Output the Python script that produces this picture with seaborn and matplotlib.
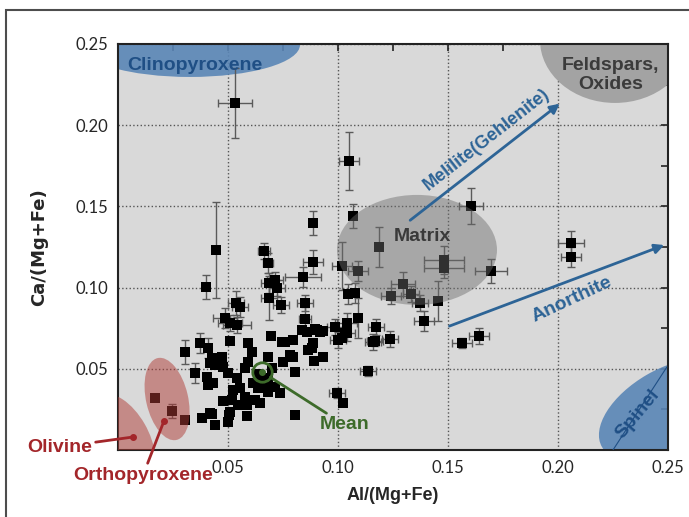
import numpy as np
import pandas as pd
import seaborn as sns
import matplotlib
matplotlib.use("Agg")
import matplotlib.pyplot as plt
from matplotlib.patches import Ellipse, Rectangle
from matplotlib.transforms import ScaledTranslation

# puntos con barras de error: Al/(Mg+Fe), Ca/(Mg+Fe), desvios
al_e = [0.0532, 0.1050, 0.0445, 0.0400, 0.0664, 0.0682, 0.0886, 0.0841, 0.1018, 0.1091,
        0.1186, 0.1068, 0.1605, 0.2059, 0.2059, 0.1482, 0.1482, 0.1695, 0.0686, 0.0714,
        0.0723, 0.0686, 0.0741, 0.0850, 0.0850, 0.0536, 0.0555, 0.0486, 0.0509, 0.0541,
        0.1045, 0.1077, 0.1091, 0.1041, 0.0986, 0.1241, 0.1295, 0.1332, 0.1373, 0.1455,
        0.1391, 0.1173, 0.1041, 0.1000, 0.1159, 0.1236, 0.1564, 0.1641, 0.1136, 0.1168,
        0.0373, 0.0305, 0.0409, 0.0350, 0.0995, 0.0245, 0.0886]
ca_e = [0.2137, 0.1780, 0.1232, 0.1004, 0.1225, 0.1151, 0.1158, 0.1065, 0.1133, 0.1102,
        0.1250, 0.1441, 0.1502, 0.1275, 0.1188, 0.1170, 0.1121, 0.1102, 0.1028, 0.1047,
        0.0998, 0.0936, 0.0893, 0.0905, 0.0807, 0.0905, 0.0881, 0.0813, 0.0782, 0.0770,
        0.0961, 0.0967, 0.0813, 0.0782, 0.0757, 0.0948, 0.1022, 0.0961, 0.0905, 0.0917,
        0.0794, 0.0757, 0.0720, 0.0677, 0.0665, 0.0684, 0.0659, 0.0702, 0.0486, 0.0671,
        0.0659, 0.0603, 0.0628, 0.0474, 0.0351, 0.0240, 0.1398]
al_sd = [0.0077, 0.0045, 0.0, 0.0, 0.0027, 0.0023, 0.0045, 0.0082, 0.0045, 0.0045,
         0.0, 0.0, 0.0055, 0.0059, 0.0045, 0.0091, 0.0091, 0.0073, 0.0036, 0.0036,
         0.0036, 0.0036, 0.0036, 0.0036, 0.0027, 0.0036, 0.0036, 0.0055, 0.0055, 0.0064,
         0.0, 0.0, 0.0, 0.0045, 0.0036, 0.0045, 0.0055, 0.0036, 0.0036, 0.0,
         0.0045, 0.0036, 0.0036, 0.0036, 0.0036, 0.0036, 0.0045, 0.0045, 0.0036, 0.0036,
         0.0, 0.0, 0.0, 0.0, 0.0036, 0.0, 0.0]
ca_sd = [0.0216, 0.0179, 0.0296, 0.0074, 0.0049, 0.0062, 0.0074, 0.0062, 0.0148, 0.0062,
         0.0123, 0.0074, 0.0111, 0.0074, 0.0062, 0.0086, 0.0062, 0.0074, 0.0062, 0.0049,
         0.0049, 0.0135, 0.0049, 0.0049, 0.0074, 0.0074, 0.0062, 0.0062, 0.0049, 0.0049,
         0.0062, 0.0062, 0.0123, 0.0062, 0.0049, 0.0049, 0.0074, 0.0049, 0.0049, 0.0123,
         0.0062, 0.0049, 0.0049, 0.0049, 0.0049, 0.0049, 0.0031, 0.0049, 0.0031, 0.0031,
         0.0062, 0.0074, 0.0062, 0.0062, 0.0031, 0.0043, 0.0074]

# puntos sin barras visibles
al_p = [0.0918, 0.0905, 0.0859, 0.0836, 0.0886, 0.0882, 0.0864, 0.0795, 0.0782, 0.0750,
        0.0805, 0.0932, 0.0891, 0.0695, 0.0591, 0.0509, 0.1023, 0.0805, 0.0473, 0.0427,
        0.0418, 0.0441, 0.0477, 0.0405, 0.0500, 0.0432, 0.0541, 0.0577, 0.0609, 0.0591,
        0.0523, 0.0555, 0.0614, 0.0636, 0.0668, 0.0682, 0.0714, 0.0736, 0.0577, 0.0623,
        0.0518, 0.0477, 0.0545, 0.0586, 0.0645, 0.0509, 0.0427, 0.0382, 0.0441, 0.0500,
        0.0586, 0.0168, 0.0305, 0.0682, 0.0745, 0.0795, 0.0759, 0.0895, 0.0932, 0.1032,
        0.1018, 0.0409, 0.0636, 0.0682, 0.0655, 0.0700, 0.0418, 0.0505]
ca_p = [0.0727, 0.0739, 0.0727, 0.0739, 0.0659, 0.0628, 0.0616, 0.0573, 0.0585, 0.0542,
        0.0480, 0.0573, 0.0548, 0.0702, 0.0659, 0.0671, 0.0289, 0.0216, 0.0573, 0.0567,
        0.0536, 0.0523, 0.0511, 0.0450, 0.0474, 0.0413, 0.0443, 0.0505, 0.0603, 0.0542,
        0.0369, 0.0382, 0.0413, 0.0382, 0.0400, 0.0357, 0.0388, 0.0351, 0.0326, 0.0308,
        0.0308, 0.0302, 0.0277, 0.0277, 0.0289, 0.0234, 0.0222, 0.0197, 0.0154, 0.0172,
        0.0209, 0.0320, 0.0185, 0.0573, 0.0665, 0.0677, 0.0665, 0.0745, 0.0733, 0.0720,
        0.0690, 0.0400, 0.0468, 0.0443, 0.0419, 0.0505, 0.0228, 0.0216]

mean_al, mean_ca = 0.0655, 0.048

ticks = [0.05, 0.10, 0.15, 0.20, 0.25]
tick_labels = ["0.05", "0.10", "0.15", "0.20", "0.25"]

blue = "#2d6496"
red = "#a3262a"
green = "#3d6b2a"

sns.set_style("white")
plt.rcParams["font.family"] = ["Liberation Sans", "DejaVu Sans"]

fig = plt.figure(figsize=(6.89, 5.17), dpi=100)
ax = fig.add_axes([0.1713, 0.1296, 0.7982, 0.7853])
ax.set_facecolor("#d9d9d9")
ax.set_xlim(0, 0.25)
ax.set_ylim(0, 0.25)


def blob(cx, cy, w, h, angle, **kw):
    # elipse en pixeles centrada en coordenadas de datos
    tr = fig.dpi_scale_trans + ScaledTranslation(cx, cy, ax.transData)
    e = Ellipse((0, 0), w / 100, h / 100, angle=angle, transform=tr, **kw)
    ax.add_artist(e)
    e.set_clip_path(ax.patch)
    return e


# regiones de minerales
blob(0.0327, 0.2494, 220, 64, 0, color="#5a86b6", alpha=0.9, lw=0, zorder=1)
blob(0.2259, 0.2525, 150, 126, 0, color="#a3a3a3", lw=0, zorder=1)
blob(0.2495, 0.0250, 150, 80, 30, color="#5a86b6", alpha=0.9, lw=0, zorder=1)
blob(0.1359, 0.1232, 160, 110, 0, color="#6b6b6b", alpha=0.45, lw=0, zorder=4)
blob(0.0223, 0.0314, 84, 42, 103, color="#b03c37", alpha=0.5, lw=0, zorder=4)
blob(0.0032, 0.0092, 90, 45, 120, color="#b03c37", alpha=0.5, lw=0, zorder=4)

# barras de error
al_e = np.array(al_e); ca_e = np.array(ca_e)
al_sd = np.array(al_sd); ca_sd = np.array(ca_sd)
mx = al_sd > 0
my = ca_sd > 0
ax.errorbar(al_e[mx], ca_e[mx], xerr=al_sd[mx], fmt="none", ecolor="#5a5a5a",
            elinewidth=1, capsize=3, capthick=1, zorder=2)
ax.errorbar(al_e[my], ca_e[my], yerr=ca_sd[my], fmt="none", ecolor="#5a5a5a",
            elinewidth=1, capsize=3, capthick=1, zorder=2)

df = pd.DataFrame({"al": np.concatenate([al_e, al_p]), "ca": np.concatenate([ca_e, ca_p])})
sns.scatterplot(data=df, x="al", y="ca", marker="s", s=48, color="black",
                edgecolor="none", ax=ax, zorder=3, legend=False)

# media
ax.plot(mean_al, mean_ca, marker="o", ms=14, mfc="none", mec=green, mew=2, zorder=5)
ax.plot(mean_al, mean_ca, marker="o", ms=4, color=green, zorder=5)
ax.annotate("Mean", xy=(mean_al, mean_ca), xytext=(0.0918, 0.0154), ha="left", va="center",
            color=green, fontsize=14, fontweight="bold",
            arrowprops=dict(arrowstyle="-", color=green, lw=2, shrinkA=0, shrinkB=7), zorder=5)

# flechas de tendencia
ax.annotate("", xy=(0.2018, 0.2143), xytext=(0.1318, 0.1404),
            arrowprops=dict(arrowstyle="-|>", color=blue, lw=2, mutation_scale=14), zorder=5)
ax.annotate("", xy=(0.2495, 0.1268), xytext=(0.1495, 0.0757),
            arrowprops=dict(arrowstyle="-|>", color=blue, lw=2, mutation_scale=14), zorder=5)
ax.text(0.1677, 0.1909, "Melilite(Gehlenite)", rotation=38, color=blue, fontsize=13,
        fontweight="bold", ha="center", va="center", zorder=5)
ax.text(0.2064, 0.0924, "Anorthite", rotation=25, color=blue, fontsize=14,
        fontweight="bold", ha="center", va="center", zorder=5)

# etiquetas de regiones
ax.text(0.035, 0.237, "Clinopyroxene", color="#1f4f85", fontsize=14, fontweight="bold",
        ha="center", va="center", zorder=5)
ax.text(0.224, 0.2309, "Feldspars,\nOxides", color="#3b3b3b", fontsize=14, fontweight="bold",
        ha="center", va="center", linespacing=1.1, zorder=5)
ax.text(0.1382, 0.1312, "Matrix", color="#3a3a3a", fontsize=14, fontweight="bold",
        ha="center", va="center", zorder=5)
ax.plot([0.2250, 0.2495], [0.0, 0.0511], color="#1f4f85", lw=0.8, zorder=4)
ax.text(0.2364, 0.0222, "Spinel", rotation=50, color="#1f4f85", fontsize=14,
        fontweight="bold", ha="center", va="center", zorder=5)

ax.annotate("Olivine", xy=(0.0068, 0.008), xytext=(-0.0264, 0.0018), ha="center", va="center",
            color=red, fontsize=14, fontweight="bold", annotation_clip=False,
            arrowprops=dict(arrowstyle="-", color=red, lw=2, shrinkA=0, shrinkB=0), zorder=6)
ax.annotate("Orthopyroxene", xy=(0.0209, 0.0179), xytext=(0.0114, -0.0154), ha="center",
            va="center", color=red, fontsize=14, fontweight="bold", annotation_clip=False,
            arrowprops=dict(arrowstyle="-", color=red, lw=2, shrinkA=0, shrinkB=0), zorder=6)
ax.plot([0.0068, 0.0209], [0.008, 0.0179], "o", ms=4, color=red, zorder=6)

# ejes
ax.set_xticks(ticks)
ax.set_xticklabels(tick_labels, fontfamily=["Lato", "DejaVu Sans"])
ax.set_yticks(ticks)
ax.set_yticklabels(tick_labels, fontfamily=["Lato", "DejaVu Sans"])
ax.set_xticks(np.arange(0.025, 0.25, 0.05), minor=True)
ax.set_yticks(np.arange(0.025, 0.25, 0.05), minor=True)
ax.tick_params(which="both", direction="in", top=True, right=True, length=5, width=1.2,
               labelsize=12, pad=7, color="#222222")
ax.grid(which="major", linestyle=":", color="#555555", lw=1)
ax.set_axisbelow(True)
for sp in ax.spines.values():
    sp.set_linewidth(1.5)
    sp.set_color("#222222")

ax.set_xlabel("Al/(Mg+Fe)", fontsize=13, fontweight="bold", labelpad=8)
ax.set_ylabel("Ca/(Mg+Fe)", fontsize=13, fontweight="bold", labelpad=20,
              fontfamily=["DejaVu Sans"])

fig.add_artist(Rectangle((0.0087, -0.05), 1.1, 1.0307, transform=fig.transFigure,
                         fill=False, edgecolor="#4d4d4d", lw=1.5))

fig.savefig("out.png", dpi=100)
